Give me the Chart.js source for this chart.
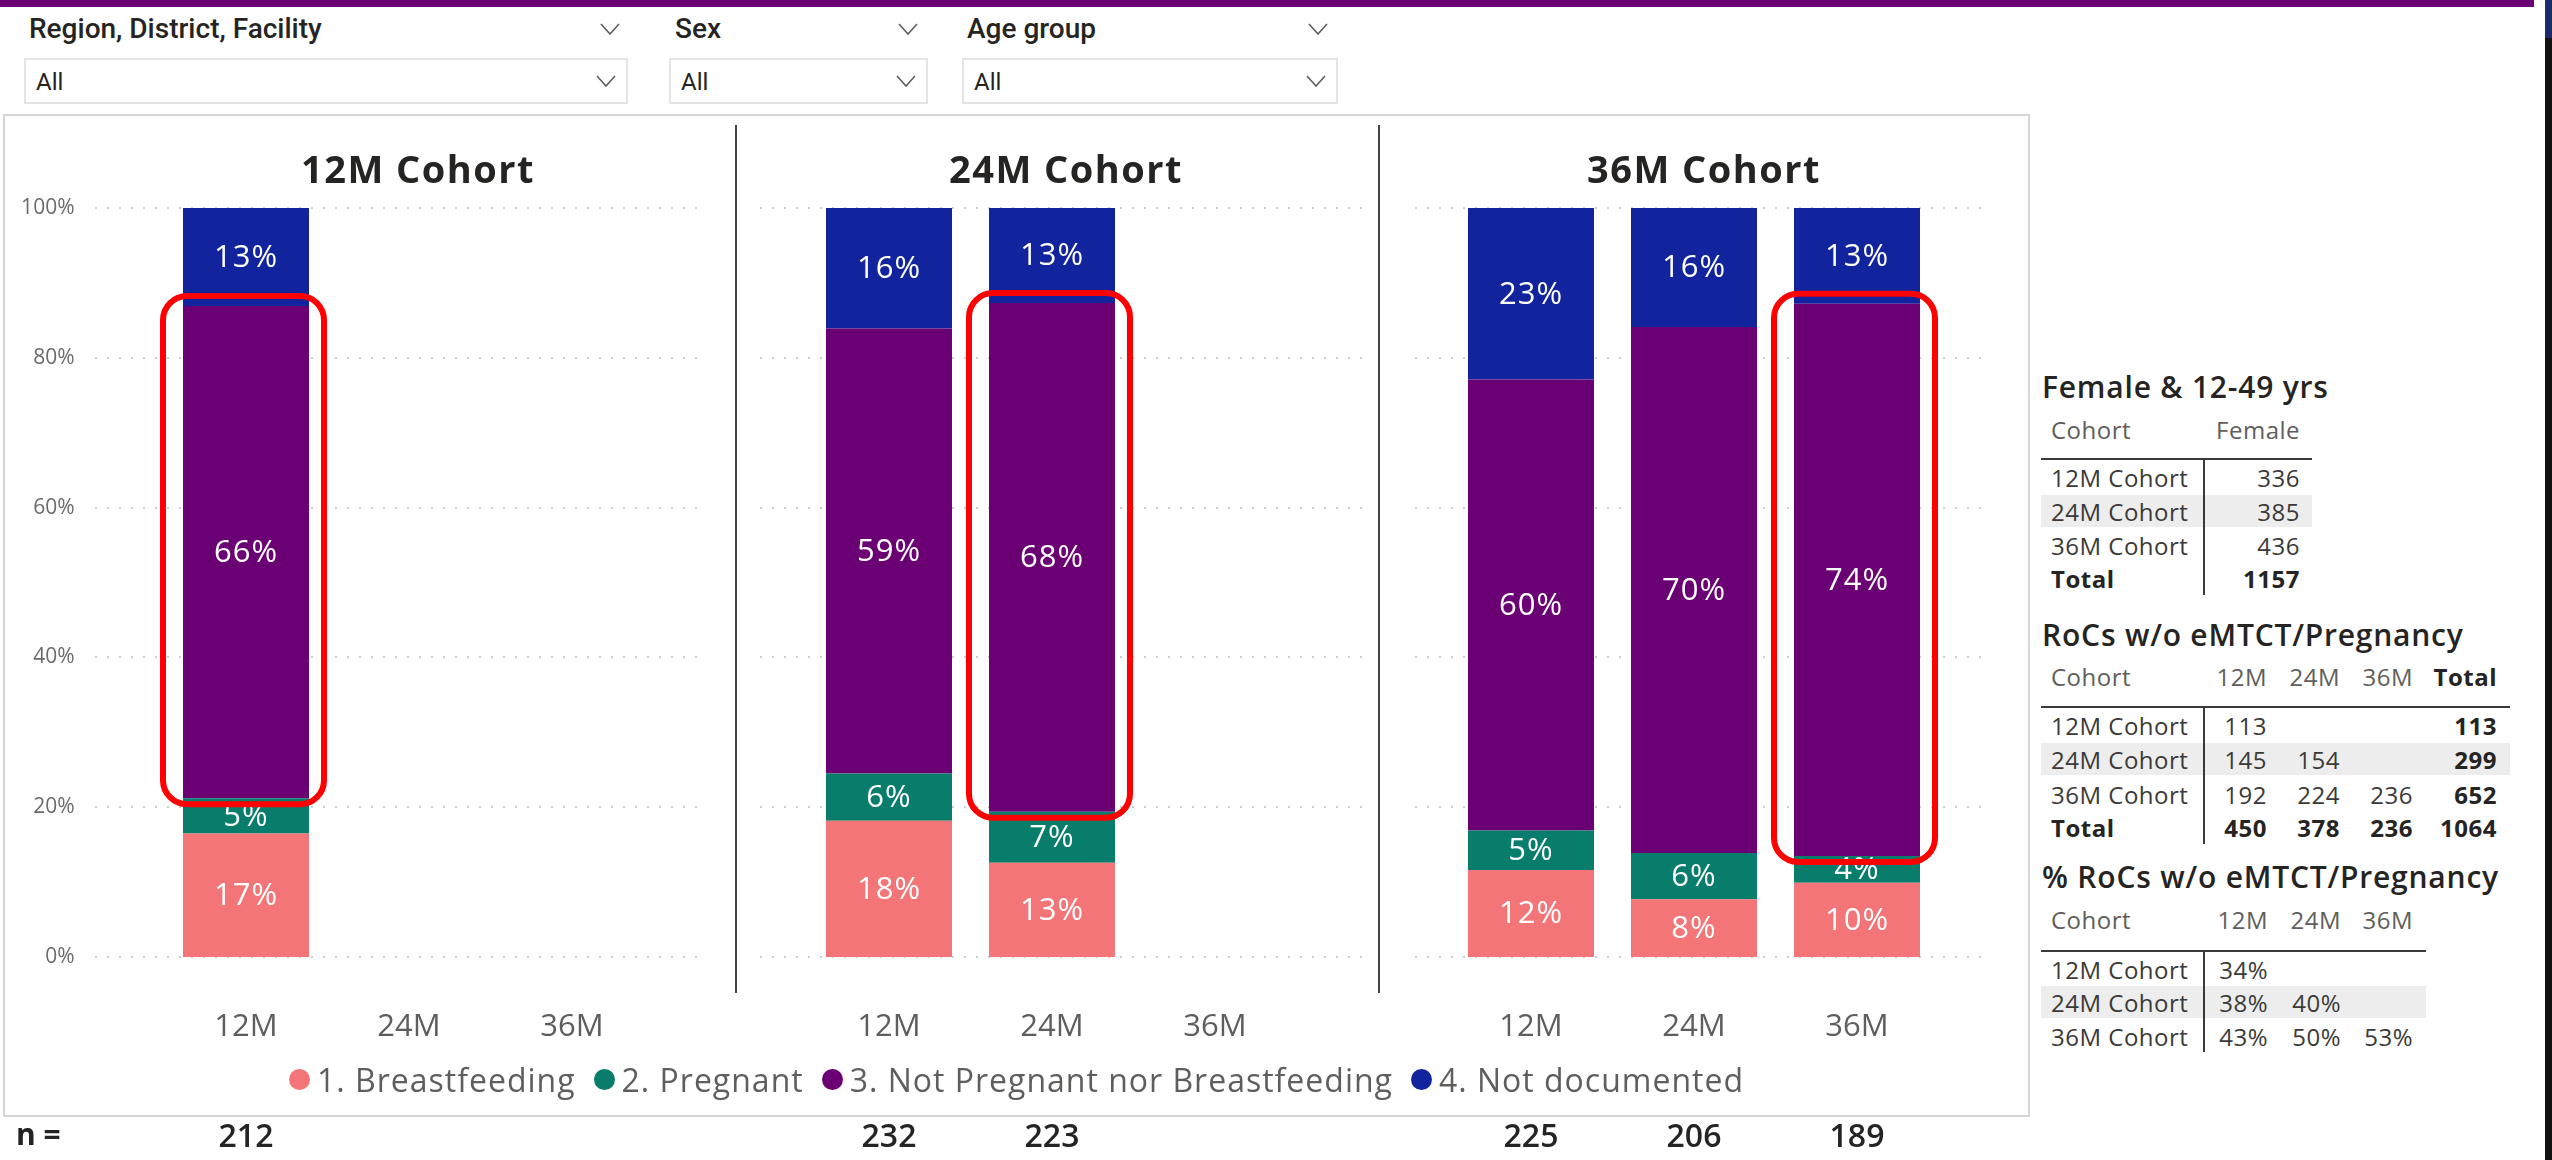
<!DOCTYPE html>
<html>
<head>
<meta charset="utf-8">
<script src="https://cdn.jsdelivr.net/npm/chart.js@4.4.1/dist/chart.umd.min.js"></script>
<style>
  body { margin: 0; width: 2552px; height: 1160px; overflow: hidden; background: #fff; position: relative; font-family: "Open Sans", sans-serif; }
  .abs { position: absolute; white-space: nowrap; }
  .flabel { font-family: Roboto, sans-serif; font-weight: 500; font-size: 28px; color: #252423; }
  .fval { font-family: Roboto, sans-serif; font-size: 24px; color: #252423; }
  .title { font-weight: 700; font-size: 38px; letter-spacing: 1.5px; color: #252423; text-align: center; width: 600px; }
  .ttitle { font-weight: 600; font-size: 30px; letter-spacing: 0.8px; color: #252423; }
  .th { font-size: 24px; letter-spacing: 0.5px; color: #605E5C; }
  .td { font-size: 24px; letter-spacing: 0.5px; color: #3B3A39; }
  .tb { font-weight: 700; color: #252423; }
  canvas { position: absolute; top: 115px; }
  #legend { left: 4px; top: 1059px; width: 2025px; height: 40px; display: flex; justify-content: center; align-items: center; gap: 18px; }
  #legend .item { display: flex; align-items: center; font-size: 32px; letter-spacing: 1px; color: #605E5C; }
  #legend .dot { width: 21px; height: 21px; border-radius: 50%; margin-right: 7px; }
</style>
</head>
<body>
<div class="abs" style="left:0;top:0;width:2534px;height:7px;background:#6A0073"></div>
<div class="abs" style="left:2545px;top:0;width:7px;height:1160px;background:#111"></div>
<div class="abs" style="left:2545px;top:0;width:7px;height:38px;background:#1B2A6B"></div>

<div id="filters"></div>

<div class="abs" style="left:3px;top:114px;width:2027px;height:1003px;border:2px solid #D6D6D6;box-sizing:border-box"></div>
<div class="abs" style="left:735px;top:125px;width:2px;height:868px;background:#444"></div>
<div class="abs" style="left:1378px;top:125px;width:2px;height:868px;background:#444"></div>

<canvas id="c0"></canvas>
<canvas id="c1"></canvas>
<canvas id="c2"></canvas>

<div id="titles"></div>
<div id="legend" class="abs"></div>
<div class="abs" style="left:16px;top:1114px;font-weight:700;font-size:30px;line-height:40px;color:#252423">n =</div>
<div id="tables"></div>

<script>
const categories = ['12M', '24M', '36M'];
const cohorts = ['12M Cohort', '24M Cohort', '36M Cohort'];
const seriesNames = ['1. Breastfeeding', '2. Pregnant', '3. Not Pregnant nor Breastfeeding', '4. Not documented'];
const seriesColors = ['#F37577', '#087D6B', '#6A0074', '#12239E'];
const yTicks = [0, 20, 40, 60, 80, 100];

// share (%) per cohort panel, one entry per category
const breastfeeding = [[16.5, null, null], [18.2, 12.6, null], [11.6, 7.7, 9.9]];
const pregnant      = [[4.7, null, null], [6.3, 6.8, null], [5.3, 6.2, 3.6]];
const notPregnant   = [[65.7, null, null], [59.4, 67.9, null], [60.2, 70.2, 73.7]];
const notDocumented = [[13.1, null, null], [16.1, 12.7, null], [22.9, 15.9, 12.8]];
const nCounts = [[212, null, null], [232, 223, null], [225, 206, 189]];
const highlighted = [0, 1, 2];

// side tables
const femaleCounts = [336, 385, 436];
const femaleTotal = 1157;
const rocsCounts = [[113, null, null], [145, 154, null], [192, 224, 236]];
const rocsRowTotals = [113, 299, 652];
const rocsColTotals = [450, 378, 236];
const rocsTotal = 1064;
const rocsPct = [[34, null, null], [38, 40, null], [43, 50, 53]];

const panels = [
  { left: 4, width: 732, padL: 0, padR: 82.5, yWidth: 160.5, gridFrom: 95, gridTo: 705, titleX: 418 },
  { left: 736, width: 643, padL: 71.5, padR: 82.5, yWidth: 0, gridFrom: 760, gridTo: 1365, titleX: 1066 },
  { left: 1379, width: 650, padL: 70.5, padR: 90.5, yWidth: 0, gridFrom: 1415, gridTo: 1990, titleX: 1704 }
];

function put(parent, cls, x, y, text, align, css) {
  const d = document.createElement('div');
  d.className = 'abs ' + cls;
  d.textContent = text;
  d.style.top = (y - 20) + 'px';
  d.style.lineHeight = '40px';
  if (align === 'right') d.style.right = (2552 - x) + 'px';
  else d.style.left = x + 'px';
  if (css) d.style.cssText += css;
  parent.appendChild(d);
  return d;
}
function box(parent, x, y, w, h, css) {
  const d = document.createElement('div');
  d.className = 'abs';
  d.style.cssText = `left:${x}px;top:${y}px;width:${w}px;height:${h}px;` + css;
  parent.appendChild(d);
}
function chevron(parent, x, y) {
  const s = document.createElementNS('http://www.w3.org/2000/svg', 'svg');
  s.setAttribute('width', 20); s.setAttribute('height', 12);
  s.style.cssText = `position:absolute;left:${x - 10}px;top:${y - 6}px`;
  s.innerHTML = '<polyline points="1,1 10,11 19,1" fill="none" stroke="#605E5C" stroke-width="1.6"/>';
  parent.appendChild(s);
}

// filter bar
const fl = document.getElementById('filters');
[['Region, District, Facility', 29, 610, 24, 604], ['Sex', 675, 908, 669, 259], ['Age group', 967, 1318, 962, 376]]
  .forEach(([name, lx, cx, bx, bw]) => {
    put(fl, 'flabel', lx, 29, name);
    chevron(fl, cx, 29);
    box(fl, bx, 58, bw, 46, 'border:2px solid #E4E4E4;box-sizing:border-box');
    put(fl, 'fval', bx + 12, 82, 'All');
    chevron(fl, bx + bw - 22, 81);
  });

// panel titles
const tl = document.getElementById('titles');
panels.forEach((p, i) => put(tl, 'title', p.titleX - 300, 168, cohorts[i]));

// legend
const lg = document.getElementById('legend');
seriesNames.forEach((n, i) => {
  const it = document.createElement('div');
  it.className = 'item';
  it.innerHTML = `<span class="dot" style="background:${seriesColors[i]}"></span>`;
  it.appendChild(document.createTextNode(n));
  lg.appendChild(it);
});

// plugins
const dotGrid = {
  id: 'dotGrid',
  beforeDatasetsDraw(chart, args, o) {
    const y = chart.scales.y, ctx = chart.ctx;
    ctx.save();
    ctx.strokeStyle = '#CFCDCB';
    ctx.lineWidth = 2;
    ctx.setLineDash([2, 10]);
    yTicks.forEach(v => {
      const py = Math.round(y.getPixelForValue(v));
      ctx.beginPath(); ctx.moveTo(o.from, py); ctx.lineTo(o.to, py); ctx.stroke();
    });
    ctx.restore();
  }
};
const segLabels = {
  id: 'segLabels',
  afterDatasetsDraw(chart) {
    const ctx = chart.ctx;
    ctx.save();
    ctx.font = '31px "Open Sans"';
    ctx.letterSpacing = '1px';
    ctx.fillStyle = '#FFFFFF';
    ctx.textAlign = 'center';
    ctx.textBaseline = 'middle';
    chart.data.datasets.forEach((ds, di) => {
      chart.getDatasetMeta(di).data.forEach((bar, i) => {
        const v = ds.data[i];
        if (v == null) return;
        ctx.fillText(Math.round(v) + '%', bar.x, (bar.y + bar.base) / 2 + 1);
      });
    });
    ctx.restore();
  }
};
const extras = {
  id: 'extras',
  afterDraw(chart, args, o) {
    const ctx = chart.ctx;
    const bar = chart.getDatasetMeta(2).data[o.highlight];
    ctx.save();
    ctx.strokeStyle = '#FF0000';
    ctx.lineWidth = 6;
    ctx.beginPath();
    ctx.roundRect(bar.x - bar.width / 2 - 20, bar.y - 10, bar.width + 35, bar.base - bar.y + 16, 24);
    ctx.stroke();
    // n = row
    ctx.font = '600 32px "Open Sans"';
    ctx.fillStyle = '#252423';
    ctx.textAlign = 'center';
    ctx.textBaseline = 'middle';
    o.counts.forEach((n, i) => {
      if (n != null) ctx.fillText(String(n), chart.scales.x.getPixelForValue(i), 1138 - 115);
    });
    ctx.restore();
  }
};

const seriesData = [breastfeeding, pregnant, notPregnant, notDocumented];
panels.forEach((p, pi) => {
  const cv = document.getElementById('c' + pi);
  cv.width = p.width; cv.height = 1045;
  cv.style.left = p.left + 'px';
  new Chart(cv, {
    type: 'bar',
    data: {
      labels: categories,
      datasets: seriesData.map((s, si) => ({
        label: seriesNames[si],
        data: s[pi],
        backgroundColor: seriesColors[si],
        borderWidth: 0,
        categoryPercentage: 1,
        barPercentage: 0.773
      }))
    },
    options: {
      responsive: false,
      animation: false,
      devicePixelRatio: 1,
      layout: { padding: { left: p.padL, right: p.padR, top: 93, bottom: 0 } },
      plugins: {
        legend: { display: false },
        tooltip: { enabled: false },
        dotGrid: { from: p.gridFrom - p.left, to: p.gridTo - p.left },
        extras: { highlight: highlighted[pi], counts: nCounts[pi] }
      },
      scales: {
        x: {
          stacked: true,
          grid: { display: false, drawTicks: false },
          border: { display: false },
          ticks: { font: { family: 'Open Sans', size: 31 }, color: '#605E5C', padding: 52 },
          afterFit: s => { s.height = 203; }
        },
        y: {
          stacked: true,
          display: pi === 0,
          min: 0, max: 100,
          grid: { display: false, drawTicks: false },
          border: { display: false },
          afterBuildTicks: s => { s.ticks = yTicks.map(v => ({ value: v })); },
          ticks: { font: { family: 'Open Sans', size: 21 }, color: '#6B6B6B', padding: 90, callback: v => v + '%' },
          afterFit: s => { s.width = p.yWidth; s.paddingTop = 12; s.paddingBottom = 12; }
        }
      }
    },
    plugins: [dotGrid, segLabels, extras]
  });
});

// side tables
const tb = document.getElementById('tables');
const rowLabel = 2051;
function tableFrame(titleY, title, headY, lineY, lineR, rows, vEnd, grayY) {
  put(tb, 'ttitle', 2042, titleY, title);
  put(tb, 'th', rowLabel, headY, 'Cohort');
  box(tb, 2041, grayY, lineR - 2041, 32, 'background:#EDEDED');
  box(tb, 2041, lineY - 1, lineR - 2041, 2, 'background:#3B3A39');
  box(tb, 2203, lineY, 2, vEnd - lineY, 'background:#3B3A39');
  rows.forEach(([label, y, bold]) => put(tb, 'td' + (bold ? ' tb' : ''), rowLabel, y, label));
}
// table 1
tableFrame(387, 'Female & 12-49 yrs', 430, 459, 2312,
  [['12M Cohort', 478], ['24M Cohort', 512], ['36M Cohort', 546], ['Total', 579, true]], 595, 495);
put(tb, 'th', 2300, 430, 'Female', 'right');
femaleCounts.forEach((v, i) => put(tb, 'td', 2300, [478, 512, 546][i], String(v), 'right'));
put(tb, 'td tb', 2300, 579, String(femaleTotal), 'right');

// table 2
const c2 = [2267, 2340, 2413, 2497];
const r2 = [726, 760, 795, 828];
tableFrame(635, 'RoCs w/o eMTCT/Pregnancy', 677, 707, 2510,
  [['12M Cohort', r2[0]], ['24M Cohort', r2[1]], ['36M Cohort', r2[2]], ['Total', r2[3], true]], 844, 743);
categories.forEach((c, j) => put(tb, 'th', c2[j], 677, c, 'right'));
put(tb, 'th tb', c2[3], 677, 'Total', 'right');
rocsCounts.forEach((row, i) => {
  row.forEach((v, j) => { if (v != null) put(tb, 'td', c2[j], r2[i], String(v), 'right'); });
  put(tb, 'td tb', c2[3], r2[i], String(rocsRowTotals[i]), 'right');
});
rocsColTotals.forEach((v, j) => put(tb, 'td tb', c2[j], r2[3], String(v), 'right'));
put(tb, 'td tb', c2[3], r2[3], String(rocsTotal), 'right');

// table 3
const c3 = [2268, 2341, 2413];
const r3 = [970, 1003, 1037];
tableFrame(877, '% RoCs w/o eMTCT/Pregnancy', 920, 951, 2426,
  [['12M Cohort', r3[0]], ['24M Cohort', r3[1]], ['36M Cohort', r3[2]]], 1052, 986);
categories.forEach((c, j) => put(tb, 'th', c3[j], 920, c, 'right'));
rocsPct.forEach((row, i) => row.forEach((v, j) => {
  if (v != null) put(tb, 'td', c3[j], r3[i], v + '%', 'right');
}));
</script>
</body>
</html>
